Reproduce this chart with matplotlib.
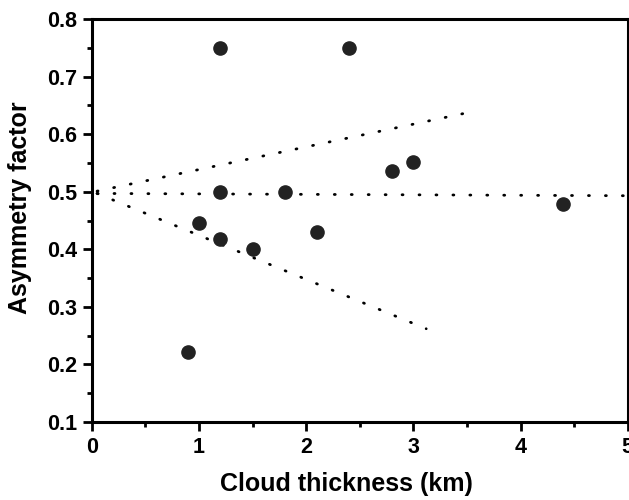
import matplotlib
matplotlib.use("Agg")
import matplotlib.pyplot as plt
from matplotlib.ticker import MultipleLocator

# Data
thickness_km = [1.2, 2.4, 1.2, 1.8, 1.0, 1.2, 1.5, 2.1, 2.8, 3.0, 4.4, 0.9]
asymmetry = [0.75, 0.75, 0.50, 0.50, 0.445, 0.417, 0.401, 0.430, 0.536, 0.551, 0.479, 0.222]

# Dotted guide lines (start/end points)
upper_x = [0.05, 3.55]
upper_y = [0.501, 0.639]
middle_x = [0.05, 5.0]
middle_y = [0.497, 0.493]
lower_x = [0.05, 3.12]
lower_y = [0.497, 0.262]

xticks = [0, 1, 2, 3, 4, 5]
yticks = [0.1, 0.2, 0.3, 0.4, 0.5, 0.6, 0.7, 0.8]

plt.rcParams['font.family'] = ['Liberation Sans', 'DejaVu Sans']
plt.rcParams['font.weight'] = 'bold'

fig = plt.figure(figsize=(6.29, 5.0), dpi=100)
ax = fig.add_axes([0.1458, 0.156, 0.8522, 0.806])

dot_style = dict(color='black', linewidth=2.0, linestyle=(0, (0.35, 5.75)),
                 dash_capstyle='round', zorder=2)
ax.plot(upper_x, upper_y, **dot_style)
ax.plot(middle_x, middle_y, **dot_style)
ax.plot(lower_x, lower_y, **dot_style)

ax.plot(thickness_km, asymmetry, linestyle='none', marker='o', markersize=9.5,
        markerfacecolor='#222222', markeredgecolor='#222222', zorder=3,
        clip_on=False)

ax.set_xlim(0, 5)
ax.set_ylim(0.1, 0.8)
ax.set_xticks(xticks)
ax.set_yticks(yticks)
ax.set_xticklabels([str(v) for v in xticks])
ax.set_yticklabels([f"{v:.1f}" for v in yticks])
ax.xaxis.set_minor_locator(MultipleLocator(0.5))
ax.yaxis.set_minor_locator(MultipleLocator(0.05))

for s in ax.spines.values():
    s.set_linewidth(2.2)

ax.tick_params(which='major', direction='out', length=6.5, width=2.0,
               labelsize=15.5, pad=4)
ax.tick_params(which='minor', direction='out', length=3.5, width=2.0)
for lab in ax.get_xticklabels() + ax.get_yticklabels():
    lab.set_fontweight('bold')

ax.set_xlabel('Cloud thickness (km)', fontsize=18, fontweight='bold')
ax.set_ylabel('Asymmetry factor', fontsize=18, fontweight='bold')
ax.xaxis.set_label_coords(0.475, -0.125)
ax.yaxis.set_label_coords(-0.111, 0.533)

fig.savefig('out.png', dpi=100)
